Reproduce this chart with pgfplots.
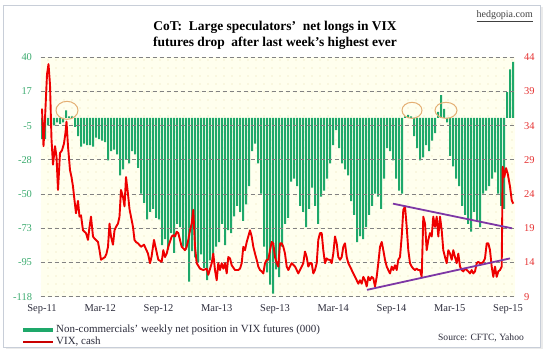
\documentclass[border=0pt]{standalone}
\usepackage{pgfplots}
\pgfplotsset{compat=1.18}
\usepackage{pgfplotstable}
\usetikzlibrary{patterns}
\usepackage{fontspec}
\setmainfont{Liberation Serif}
\definecolor{barg}{RGB}{30,168,106}
\definecolor{vixr}{RGB}{238,0,0}
\definecolor{ticg}{RGB}{60,172,112}
\definecolor{ticr}{RGB}{230,50,50}
\definecolor{xtc}{RGB}{45,45,60}
\definecolor{gridc}{RGB}{130,130,130}
\definecolor{purp}{RGB}{125,55,165}
\definecolor{circc}{RGB}{228,175,115}
\definecolor{bgy}{RGB}{255,255,238}
\definecolor{dotc}{RGB}{232,222,175}
\definecolor{framec}{RGB}{200,206,216}
\pgfdeclarepatternformonly{sparsedots}{\pgfqpoint{-1pt}{-1pt}}{\pgfqpoint{1pt}{1pt}}{\pgfqpoint{8bp}{8bp}}{\pgfpathcircle{\pgfqpoint{0pt}{0pt}}{0.55pt}\pgfusepath{fill}}

\pgfplotstableread{
x y
0 -14
3 -14
6 -5
9 -4
12 -5
15 -3
18 -4
21 -3
24 5
27 1
30 1
33 -6
36 -12
39 -19
42 -17
45 -18
48 -18
51 -19
54 -13
57 -14
60 -15
63 -16
66 -28
69 -22
72 -21
75 -24
78 -38
81 -34
84 -27
87 -30
90 -22
93 -24
96 -33
99 -50
102 -56
105 -67
108 -62
111 -60
114 -66
117 -67
120 -84
123 -80
126 -87
129 -76
132 -89
135 -70
138 -72
141 -85
144 -87
147 -108
150 -88
153 -92
156 -95
159 -90
162 -99
165 -107
168 -94
171 -90
174 -85
177 -82
180 -70
183 -84
186 -74
189 -76
192 -65
195 -58
198 -62
201 -68
204 -57
207 -45
210 -22
213 -17
216 -30
219 -50
222 -85
225 -102
228 -110
231 -116
234 -100
237 -105
240 -85
243 -70
246 -66
249 -42
252 -40
255 -45
258 -58
261 -62
264 -72
267 -60
270 -46
273 -58
276 -70
279 -52
282 -48
285 -40
288 -30
291 -18
294 -8
297 -20
300 -30
303 -34
306 -38
309 -55
312 -64
315 -82
318 -78
321 -80
324 -72
327 -64
330 -58
333 -50
336 -52
339 -60
342 -40
345 -20
348 -22
351 -28
354 -40
357 -48
360 -50
363 1
366 2
369 1
372 -12
375 -20
378 -28
381 -26
384 -18
387 -22
390 -15
393 -10
396 4
399 15
402 6
405 -3
408 -25
411 -32
414 -40
417 -45
420 -58
423 -64
426 -70
429 -75
432 -62
435 -68
438 -72
441 -50
444 -48
447 -45
450 -40
453 -36
456 -50
459 -58
462 -60
465 17
468 32
471 37
}\cotdata

\pgfplotstableread{
x v
0 36.5
1.5 31
3 35
5 41.5
6.5 43
8 40
9.5 32
11 28.3
13 31
14.5 29.5
16 24.6
18 30
20 30.4
22 31.4
23.5 33
24.5 34.6
26 31
28 27.5
29.5 26.5
31 25.1
32.5 23.1
34 21.2
36 23
37.5 20.7
39 20.9
41 18.7
42.5 18.5
44 18.3
46 17.3
47.5 19.2
49 20.7
51 17.8
52.5 17.5
54 17.3
56 17.0
57.5 15.8
59 14.4
61 14.6
63 14.8
64.5 15.3
66 16.3
67.5 19.7
69 17.8
71 16.6
72.5 18.7
74 19.2
76 19.7
77.5 20.7
79 24.6
81 23.6
82.5 22.2
84 26.5
86 24
87.5 21.8
89 20.7
91 19.2
92.5 17.3
94 17.0
96 16.8
99 16.3
102 16.6
106 15.3
108 13.9
109.5 14.8
112 17.3
116.3 14.4
119.7 14.1
121.3 15.8
123 14.8
124.7 15.3
126.3 16.3
129.7 17.8
131.3 18.0
133 17.8
134.7 18.5
136.3 18.3
138 17.3
139.7 16.3
143 15.8
144.7 16.3
146.3 17.3
148 18.7
149.7 19.7
151.3 21.7
153 16.3
154.7 13.9
158 13.1
161.3 12.9
164.7 13.1
166.3 12.2
169.7 13.9
171.3 15.3
173 12.9
174.7 11.4
176.3 13.9
178 12.9
179.7 13.9
181.3 13.1
183 13.9
184.7 12.4
186.3 14.8
188 14.6
189.7 13.6
193 12.9
196.3 12.9
198 13.1
199.7 13.9
201.3 16.3
203 15.8
204.7 17.0
206.3 17.8
208 18.7
209.7 17.8
211.3 16.3
213 15.3
214.7 14.4
216.3 13.4
218 12.9
219.7 12.7
221.3 12.4
223 13.9
224.7 14.4
226.3 14.4
228 15.8
229.7 17.0
231.3 16.8
233 14.8
234.7 13.9
236.3 13.4
238 16.8
239.7 16.8
241.3 16.3
243 15.3
244.7 13.4
246.3 12.9
248 13.4
249.7 13.9
253 13.4
254.7 12.9
256.3 12.4
258 12.9
259.7 13.4
261.3 13.9
263 15.6
264.7 14.8
266.3 13.4
268 13.9
269.7 13.9
271.3 12.4
273 12.9
274.7 13.9
276.3 17.3
278 18.3
279.7 18.3
281.3 15.8
283 13.9
284.7 14.6
286.3 14.4
288 14.4
289.7 13.9
291.3 15.3
293 17.8
294.7 16.8
296.3 14.8
298 14.4
299.7 14.8
301.3 16.3
303 16.8
304.7 14.8
306.3 13.9
308 13.4
309.7 12.9
311.3 12.4
313 11.9
314.7 11.4
316.3 10.9
318 11.4
319.7 10.9
321.3 11.9
323 11.4
324.7 10.5
326.3 11.9
328 11.4
329.7 11.9
331.3 11.7
333 10.5
334.7 11.9
336.3 13.9
338 16.3
339.7 17.0
341.3 15.8
343 14.4
344.7 13.4
346.3 12.9
348 12.4
349.7 13.4
351.3 12.9
353 13.6
354.7 12.9
356.3 14.4
358 14.8
359.7 17.8
361.3 21.7
363 22.2
364.7 19.2
366.3 15.8
368 13.9
369.7 13.4
371.3 13.1
373 12.9
374.7 13.1
376.3 12.9
378 12.9
379.7 11.9
381.3 20.7
383 19.7
384.7 15.8
386.3 17.3
388 18.3
389.7 17.8
391.3 20.7
393 19.2
394.7 20.7
396.3 17.8
398 20.7
399.7 18.7
401.3 15.8
403 14.8
404.7 13.9
406.3 15.8
408 15.3
409.7 14.4
411.3 15.8
413 14.8
414.7 13.9
416.3 15.3
418 13.4
419.7 12.9
421.3 12.7
423 13.1
424.7 12.9
426.3 12.7
428 12.4
429.7 12.9
431.3 12.4
433 12.7
434.7 13.9
436.3 14.1
438 13.9
439.7 13.9
441.3 14.1
443 14.6
444.7 16.8
446.3 16.8
448 15.8
449.7 13.4
451.3 11.9
453 13.4
454.7 11.9
456.3 12.7
458 12.9
459.7 13.4
460.7 28.0
462.3 26.5
464 27.8
465.7 27.0
468 25.1
469.7 23.1
471.3 22.6
}\vixdata

\begin{document}
\begin{tikzpicture}
% frame with light shadow
\fill[black!8] (6bp,7bp) rectangle (542.5bp,349bp);
\filldraw[fill=white, draw=framec, line width=0.8bp] (3.5bp,9bp) rectangle (540bp,351bp);

\begin{axis}[
  at={(40.5bp,59.3bp)}, anchor=south west,
  scale only axis, width=474bp, height=239.4bp,
  xmin=-1.5, xmax=472.5, ymin=-118, ymax=40,
  axis line style={draw=none}, tick style={draw=none},
  axis background/.style={fill=bgy, postaction={pattern=sparsedots, pattern color=dotc}},
  xtick={0,58.25,116.5,174.75,233,291.25,349.5,407.75,466},
  xticklabels={Sep-11,Mar-12,Sep-12,Mar-13,Sep-13,Mar-14,Sep-14,Mar-15,Sep-15},
  ytick={40,17.4286,-5.1429,-27.7143,-50.2857,-72.8571,-95.4286,-118},
  yticklabels={40,17,-5,-28,-50,-73,-95,-118},
  ymajorgrids,
  grid style={gridc, line width=0.9bp, dash pattern=on 4bp off 3bp},
  axis on top,
  yticklabel style={font=\fontsize{10.5}{12}\selectfont, text=ticg, xshift=-5bp},
  xticklabel style={font=\fontsize{10.5}{12}\selectfont, text=xtc, yshift=-4bp},
  /pgf/number format/assume math mode=true,
]
\addplot[ybar, bar width=2bp, fill=barg, draw=none] table[x=x, y=y] {\cotdata};
\draw[circc, line width=1bp] (axis cs:25,5) ellipse [x radius=11bp, y radius=9bp];
\draw[circc, line width=1bp] (axis cs:370,5) ellipse [x radius=10bp, y radius=8bp];
\draw[circc, line width=1bp] (axis cs:404,5) ellipse [x radius=11bp, y radius=8bp];
\end{axis}

\begin{axis}[
  at={(40.5bp,59.3bp)}, anchor=south west,
  scale only axis, width=474bp, height=239.4bp,
  xmin=-1.5, xmax=472.5, ymin=9, ymax=44,
  axis x line=none, axis y line*=right,
  axis line style={draw=none}, tick style={draw=none},
  ytick={9,14,19,24,29,34,39,44},
  yticklabel style={font=\fontsize{10.5}{12}\selectfont, text=ticr, xshift=6bp},
  /pgf/number format/assume math mode=true,
]
\addplot[vixr, line width=1.9bp, line join=round] table[x=x, y=v] {\vixdata};
\addplot[purp, line width=1.8bp] coordinates {(351,22.6) (470,19.0)};
\addplot[purp, line width=1.8bp] coordinates {(325,10.0) (468,14.6)};
\end{axis}

% title and texts
\node[font=\fontsize{13.5}{16}\selectfont\bfseries, align=center] at (275bp,321bp)
  {CoT:\ \ Large speculators'\ \ net longs in VIX\\futures drop\ \ after last week's highest ever};
\node[font=\fontsize{10}{11}\selectfont, text=black!75, anchor=east, inner sep=0pt] at (533bp,340bp) {\underline{hedgopia.com}};
% legend
\draw[barg, line width=4bp] (23bp,26bp) -- (53bp,26bp);
\draw[vixr!85!black, line width=2.2bp] (23bp,14bp) -- (53bp,14bp);
\node[font=\fontsize{11}{12}\selectfont, text=xtc, anchor=west, inner sep=0pt] at (56bp,26.5bp) {Non-commercials' weekly net position in VIX futures (000)};
\node[font=\fontsize{11}{12}\selectfont, text=xtc, anchor=west, inner sep=0pt] at (56bp,14.5bp) {VIX, cash};
\node[font=\fontsize{9.6}{10}\selectfont, text=xtc, anchor=east, inner sep=0pt] at (524bp,18.5bp) {Source: CFTC, Yahoo};

\pgfresetboundingbox
\useasboundingbox (0,0) rectangle (547bp,356bp);
\end{tikzpicture}
\end{document}
